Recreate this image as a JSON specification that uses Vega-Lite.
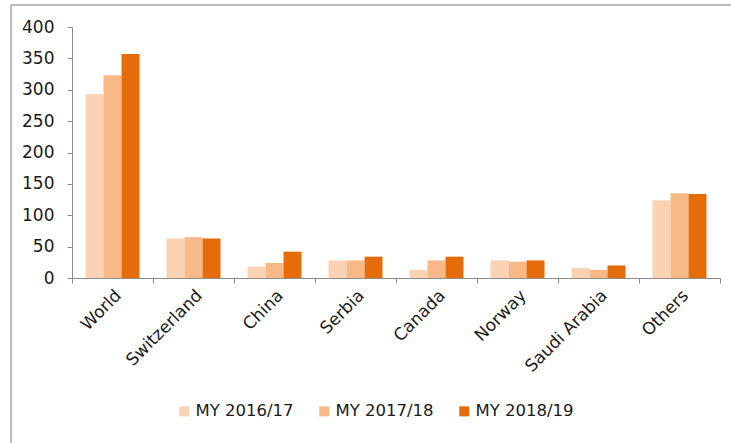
{
  "$schema": "https://vega.github.io/schema/vega-lite/v6.json",
  "width": 740,
  "height": 460,
  "autosize": {"type": "none"},
  "padding": {"left": 11, "top": 5, "right": 0, "bottom": 0},
  "background": "white",
  "config": {
    "view": {"stroke": "#a6a6a6", "strokeWidth": 1.5},
    "font": "DejaVu Sans"
  },
  "data": {
    "values": [
      {"country": "World", "year": "MY 2016/17", "value": 293},
      {"country": "World", "year": "MY 2017/18", "value": 323},
      {"country": "World", "year": "MY 2018/19", "value": 357},
      {"country": "Switzerland", "year": "MY 2016/17", "value": 63},
      {"country": "Switzerland", "year": "MY 2017/18", "value": 65},
      {"country": "Switzerland", "year": "MY 2018/19", "value": 63},
      {"country": "China", "year": "MY 2016/17", "value": 18},
      {"country": "China", "year": "MY 2017/18", "value": 24},
      {"country": "China", "year": "MY 2018/19", "value": 42},
      {"country": "Serbia", "year": "MY 2016/17", "value": 28},
      {"country": "Serbia", "year": "MY 2017/18", "value": 28},
      {"country": "Serbia", "year": "MY 2018/19", "value": 34},
      {"country": "Canada", "year": "MY 2016/17", "value": 13},
      {"country": "Canada", "year": "MY 2017/18", "value": 28},
      {"country": "Canada", "year": "MY 2018/19", "value": 34},
      {"country": "Norway", "year": "MY 2016/17", "value": 28},
      {"country": "Norway", "year": "MY 2017/18", "value": 26},
      {"country": "Norway", "year": "MY 2018/19", "value": 28},
      {"country": "Saudi Arabia", "year": "MY 2016/17", "value": 16},
      {"country": "Saudi Arabia", "year": "MY 2017/18", "value": 13},
      {"country": "Saudi Arabia", "year": "MY 2018/19", "value": 20},
      {"country": "Others", "year": "MY 2016/17", "value": 124},
      {"country": "Others", "year": "MY 2017/18", "value": 135},
      {"country": "Others", "year": "MY 2018/19", "value": 134}
    ]
  },
  "mark": {"type": "bar"},
  "encoding": {
    "x": {
      "field": "country",
      "type": "nominal",
      "sort": ["World", "Switzerland", "China", "Serbia", "Canada", "Norway", "Saudi Arabia", "Others"],
      "scale": {"range": [61, 709], "paddingInner": 0, "paddingOuter": 0},
      "axis": {
        "title": null,
        "orient": "bottom",
        "offset": -187,
        "tickBand": "extent",
        "labelAngle": -45,
        "labelFontSize": 17,
        "labelColor": "#1a1a1a",
        "labelPadding": 4,
        "tickSize": 5,
        "domainColor": "#8c8c8c",
        "tickColor": "#8c8c8c",
        "grid": false
      }
    },
    "xOffset": {
      "field": "year",
      "type": "nominal",
      "scale": {"paddingOuter": 0.75, "paddingInner": 0}
    },
    "y": {
      "field": "value",
      "type": "quantitative",
      "scale": {"domain": [0, 400], "range": [273, 22], "nice": false},
      "axis": {
        "title": null,
        "offset": -61,
        "values": [0, 50, 100, 150, 200, 250, 300, 350, 400],
        "grid": false,
        "labelFontSize": 17,
        "labelColor": "#1a1a1a",
        "labelPadding": 13,
        "tickSize": 5,
        "domainColor": "#8c8c8c",
        "tickColor": "#8c8c8c"
      }
    },
    "color": {
      "field": "year",
      "type": "nominal",
      "scale": {"domain": ["MY 2016/17", "MY 2017/18", "MY 2018/19"], "range": ["#fad2b4", "#f8b987", "#e46c0a"]},
      "legend": {
        "title": null,
        "orient": "none",
        "legendX": 165,
        "legendY": 398,
        "direction": "horizontal",
        "symbolType": "square",
        "symbolSize": 100,
        "symbolStrokeWidth": 0,
        "labelFontSize": 16.5,
        "labelColor": "#1a1a1a",
        "labelOffset": 3,
        "columnPadding": 22
      }
    }
  }
}
